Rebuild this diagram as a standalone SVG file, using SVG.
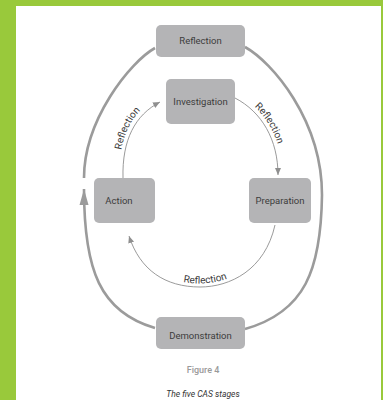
<svg xmlns="http://www.w3.org/2000/svg" width="383" height="400" viewBox="0 0 383 400">
<defs>
<style>
.box{fill:#b4b4b6;}
.lbl{font-family:Roboto,"Liberation Sans",sans-serif;font-size:9.5px;fill:#3c3c3c;text-anchor:middle;}
.arc{font-family:Roboto,"Liberation Sans",sans-serif;font-size:10px;fill:#3c3c3c;}
.outer{fill:none;stroke:#9b9b9b;stroke-width:2.6;}
.inner{fill:none;stroke:#8f8f8f;stroke-width:0.9;}
</style>
<marker id="big" markerUnits="userSpaceOnUse" markerWidth="18" markerHeight="12" viewBox="0 0 18 12" refX="16" refY="6" orient="auto">
<polygon points="0,1.5 16,6 0,10.5" fill="#9b9b9b"/>
</marker>
<marker id="small" markerUnits="userSpaceOnUse" markerWidth="8" markerHeight="8" viewBox="0 0 8 8" refX="7" refY="4" orient="auto">
<polygon points="0,1 7,4 0,7" fill="#8f8f8f"/>
</marker>
<path id="t1" d="M119.5,175 C118.5,138 131.5,111 158,98"/>
<path id="t2" d="M236,94 C265,108 282,140 282,172"/>
<path id="t3" d="M133,236 C144,267 167,283.5 200,283.5 C229,283.5 261,268 271,226"/>
</defs>
<rect x="0" y="0" width="383" height="400" fill="#99c93b"/>
<rect x="16" y="6" width="365" height="394" fill="#ffffff"/>
<g id="connectors">
<path class="outer" d="M155,48 C130,62 84,120 84,178"/>
<path class="outer" d="M155,328 C100,312 84,270 84,189" marker-end="url(#big)"/>
<path class="outer" d="M245,47 C272,62 322,120 322,195 C321,270 305,312 245,329"/>
<path class="inner" d="M123,178 C122,140 135,115 160,102" marker-end="url(#small)"/>
<path class="inner" d="M235,98 C262,112 278,140 278,175" marker-end="url(#small)"/>
<path class="inner" d="M275,225 C265,270 230,287 200,287 C165,287 140,270 129,236" marker-end="url(#small)"/>
<text class="arc"><textPath href="#t1" startOffset="52%" text-anchor="middle">Reflection</textPath></text>
<text class="arc"><textPath href="#t2" startOffset="47%" text-anchor="middle">Reflection</textPath></text>
<text class="arc" font-size="9.5"><textPath href="#t3" startOffset="50%" text-anchor="middle">Reflection</textPath></text>
</g>
<g id="reflection"><rect class="box" x="156" y="25" width="89" height="32" rx="5"/><text class="lbl" x="200.5" y="44">Reflection</text></g>
<g id="investigation"><rect class="box" x="166" y="79" width="69" height="45" rx="5"/><text class="lbl" x="200.5" y="105">Investigation</text></g>
<g id="action"><rect class="box" x="94" y="178" width="61" height="45" rx="5"/><text class="lbl" x="119" y="204">Action</text></g>
<g id="preparation"><rect class="box" x="249" y="178" width="62" height="45" rx="5"/><text class="lbl" x="280" y="204">Preparation</text></g>
<g id="demonstration"><rect class="box" x="156" y="317" width="89" height="32" rx="5"/><text class="lbl" x="200.5" y="339">Demonstration</text></g>
<text x="203" y="373" font-family="Roboto,'Liberation Sans',sans-serif" font-size="9" font-weight="500" fill="#9a9a9a" text-anchor="middle">Figure 4</text>
<text x="203" y="397" font-family="Roboto,'Liberation Sans',sans-serif" font-size="8.5" font-style="italic" fill="#333333" text-anchor="middle">The five CAS stages</text>
</svg>
